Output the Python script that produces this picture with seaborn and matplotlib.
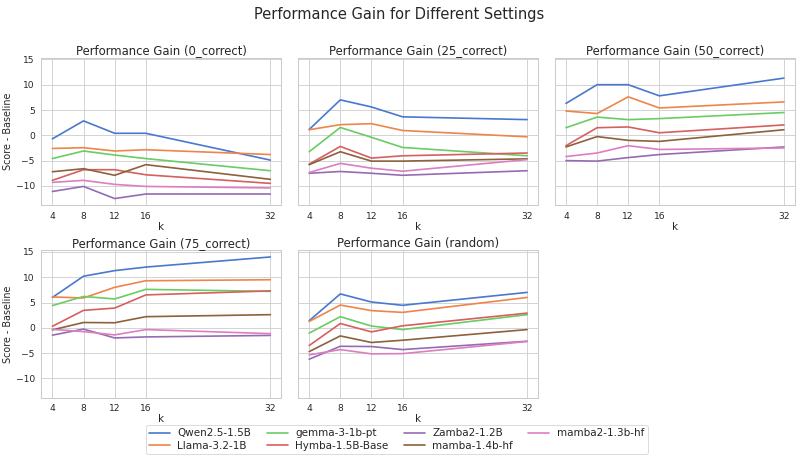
import pandas as pd
import matplotlib.pyplot as plt
import seaborn as sns

sns.set_theme(style="whitegrid")

ks = [4, 8, 12, 16, 32]
models = ["Qwen2.5-1.5B", "Llama-3.2-1B", "gemma-3-1b-pt", "Hymba-1.5B-Base",
          "Zamba2-1.2B", "mamba-1.4b-hf", "mamba2-1.3b-hf"]
settings = ["0_correct", "25_correct", "50_correct", "75_correct", "random"]

# score - baseline, one row per model, columns follow ks
gain_0 = [
    [-0.7, 2.85, 0.4, 0.4, -4.9],
    [-2.6, -2.45, -3.1, -2.85, -3.8],
    [-4.6, -3.1, -3.9, -4.6, -7.0],
    [-8.9, -6.8, -6.8, -7.8, -9.5],
    [-11.1, -10.1, -12.5, -11.6, -11.6],
    [-7.2, -6.6, -7.9, -5.8, -8.7],
    [-9.3, -8.9, -9.7, -10.1, -10.4],
]
gain_25 = [
    [1.15, 7.0, 5.6, 3.65, 3.1],
    [1.1, 2.1, 2.3, 0.95, -0.3],
    [-3.25, 1.55, -0.4, -2.4, -4.05],
    [-5.7, -2.2, -4.5, -4.05, -3.5],
    [-7.5, -7.15, -7.5, -7.9, -7.0],
    [-5.8, -3.25, -5.1, -5.1, -4.65],
    [-7.35, -5.55, -6.5, -7.1, -4.8],
]
gain_50 = [
    [6.3, 10.0, 10.0, 7.8, 11.3],
    [4.8, 4.3, 7.6, 5.4, 6.6],
    [1.5, 3.6, 3.1, 3.3, 4.5],
    [-2.05, 1.5, 1.65, 0.5, 2.05],
    [-5.0, -5.1, -4.4, -3.8, -2.3],
    [-2.3, -0.25, -1.0, -1.2, 1.1],
    [-4.2, -3.5, -2.05, -2.8, -2.5],
]
gain_75 = [
    [6.0, 10.2, 11.3, 12.0, 14.0],
    [6.1, 5.9, 8.0, 9.3, 9.5],
    [4.4, 6.2, 5.7, 7.6, 7.2],
    [0.3, 3.45, 3.9, 6.5, 7.3],
    [-1.45, -0.25, -2.0, -1.8, -1.5],
    [-0.4, 1.05, 1.0, 2.2, 2.6],
    [-0.3, -0.75, -1.4, -0.35, -1.15],
]
gain_random = [
    [1.4, 6.7, 5.1, 4.45, 7.0],
    [1.25, 4.5, 3.4, 3.05, 6.0],
    [-1.05, 2.2, 0.35, -0.35, 2.6],
    [-3.5, 0.85, -0.8, 0.4, 2.9],
    [-6.2, -3.65, -3.7, -4.3, -2.65],
    [-4.7, -1.6, -2.9, -2.45, -0.35],
    [-5.35, -4.3, -5.15, -5.1, -2.7],
]
gains = [gain_0, gain_25, gain_50, gain_75, gain_random]

rows = []
for setting, table in zip(settings, gains):
    for model, vals in zip(models, table):
        for k, v in zip(ks, vals):
            rows.append({"setting": setting, "model": model, "k": k, "gain": v})
df = pd.DataFrame(rows)

palette = sns.color_palette("muted", len(models))

# drawn large at low dpi -> 798x462 px
fig, axes = plt.subplots(2, 3, figsize=(13.3, 7.7), dpi=60, sharey=True)
axes = axes.flatten()
for ax, setting in zip(axes, settings):
    sns.lineplot(data=df[df["setting"] == setting], x="k", y="gain", hue="model",
                 hue_order=models, palette=palette, ax=ax, legend=False, linewidth=2)
    ax.set_title(f"Performance Gain ({setting})", fontsize=14, pad=4)
    ax.set_xlabel("k", fontsize=12.5, labelpad=1)
    ax.set_ylabel("Score - Baseline", fontsize=11.5, labelpad=3)
    ax.set_xticks(ks)
    ax.tick_params(labelsize=11, pad=2)
axes[5].remove()

handles = [plt.Line2D([], [], color=c, lw=2) for c in palette]
fig.legend(handles, models, loc="lower center", bbox_to_anchor=(0.497, 0.005),
           ncol=4, fontsize=12.5, frameon=True, columnspacing=1.5,
           handlelength=2.0, handletextpad=0.7, borderpad=0.35, labelspacing=0.25)
fig.suptitle("Performance Gain for Different Settings", fontsize=17.5, y=0.985)
fig.subplots_adjust(left=0.052, right=0.996, top=0.875, bottom=0.139,
                    wspace=0.071, hspace=0.305)
fig.savefig("out.png", dpi=60)
